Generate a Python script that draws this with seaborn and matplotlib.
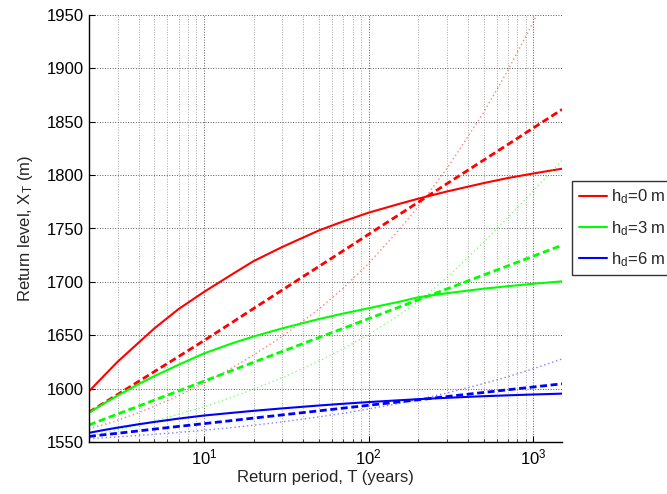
import matplotlib
matplotlib.use('Agg')
import matplotlib.pyplot as plt
import seaborn as sns
from matplotlib.lines import Line2D

# --- dados (período de retorno T em anos) ---
periodos = [2, 2.5, 3, 4, 5, 7, 10, 15, 20, 30, 50, 70, 100, 150, 200, 300, 500, 700, 1000, 1500]

# h_d = 0 m
h0_solido = [1597.5, 1613, 1625.5, 1643, 1656.5, 1674.5, 1690.6, 1707.6, 1719.4, 1732.8, 1748.2, 1756.6,
             1764.8, 1772.6, 1777.9, 1784.7, 1792.5, 1797.2, 1801.5, 1806]
h0_tracejado = [1578, 1587.2, 1594.7, 1606.7, 1616, 1630, 1645, 1662.5, 1675, 1692.5, 1714.5, 1729,
                1744.5, 1762, 1774.5, 1792, 1814, 1828.5, 1844, 1861.5]
h0_pontilhado = [1562.5, 1566.5, 1570.4, 1577.5, 1583.5, 1593.4, 1605, 1620, 1631.5, 1649.1, 1674.6,
                 1693.9, 1717.2, 1747.1, 1770.2, 1806.3, 1858.5, 1897.6, 1942.9, 1999]

# h_d = 3 m
h3_solido = [1577.5, 1586.6, 1593.7, 1604.2, 1611.8, 1622.3, 1633, 1642.7, 1648.8, 1656.5, 1665.2,
             1670.3, 1675.3, 1681, 1685.5, 1689.4, 1693.6, 1695.9, 1698.2, 1700.5]
h3_tracejado = [1566, 1571.7, 1576.3, 1583.6, 1589.3, 1597.8, 1607, 1617.3, 1624.6, 1634.9, 1647.9,
                1656.4, 1665.5, 1675.8, 1683.1, 1693.4, 1706.4, 1714.9, 1724, 1734.3]
h3_pontilhado = [1555.7, 1558.8, 1561.5, 1566, 1569.8, 1575.9, 1583, 1592.3, 1599.4, 1610.3, 1625.8,
                 1637.2, 1650.7, 1667.9, 1681.4, 1704, 1737, 1760, 1785, 1814]

# h_d = 6 m
h6_solido = [1558.6, 1561.4, 1563.5, 1566.6, 1568.8, 1571.9, 1574.8, 1577.4, 1579.2, 1581.5, 1584.2,
             1585.8, 1587.4, 1589, 1590.1, 1591.4, 1592.9, 1593.7, 1594.5, 1595.3]
h6_tracejado = [1555.2, 1556.9, 1558.2, 1560.4, 1562.1, 1564.6, 1567.2, 1570.2, 1572.4, 1575.4, 1579.2,
                1581.7, 1584.4, 1587.4, 1589.5, 1592.6, 1596.4, 1598.9, 1601.5, 1604.5]
h6_pontilhado = [1553.1, 1554, 1554.8, 1556.1, 1557.2, 1559, 1561, 1563.6, 1565.7, 1568.9, 1573.5,
                 1576.9, 1580.9, 1585.9, 1589.8, 1595.9, 1604.7, 1611.1, 1618.5, 1627.8]

rotulos = ['h$_{d}$=0 m', 'h$_{d}$=3 m', 'h$_{d}$=6 m']
cores = ['#ff0000', '#00ff00', '#0000ff']
series = [
    (h0_solido, h0_tracejado, h0_pontilhado),
    (h3_solido, h3_tracejado, h3_pontilhado),
    (h6_solido, h6_tracejado, h6_pontilhado),
]

# --- configuração visual ---
sns.set_theme(style='white')
plt.rcParams['font.family'] = ['Liberation Sans', 'DejaVu Sans']
plt.rcParams['mathtext.default'] = 'regular'
plt.rcParams['font.size'] = 12

fig = plt.figure(figsize=(6.67, 4.94), dpi=100)
ax = fig.add_axes([89 / 667, 52 / 494, 473 / 667, 427 / 494])

for (solido, tracejado, pontilhado), cor in zip(series, cores):
    sns.lineplot(x=periodos, y=pontilhado, color=cor, linewidth=1.0, alpha=0.5,
                 linestyle=(0, (1, 2)), ax=ax)
    sns.lineplot(x=periodos, y=tracejado, color=cor, linewidth=2.0,
                 linestyle=(0, (2.5, 1.3)), ax=ax)
    sns.lineplot(x=periodos, y=solido, color=cor, linewidth=1.5, ax=ax)

ax.set_xscale('log')
ax.set_xlim(2, 1500)
ax.set_ylim(1550, 1950)
ax.set_yticks(range(1550, 1951, 50))

ax.grid(which='major', linestyle=':', color='0.35', linewidth=0.7)
ax.grid(which='minor', axis='x', linestyle=':', color='0.65', linewidth=0.7)
ax.set_axisbelow(True)

sns.despine(ax=ax)
for lado in ['left', 'bottom']:
    ax.spines[lado].set_color('black')
    ax.spines[lado].set_linewidth(1.0)

ax.tick_params(which='major', direction='in', length=4, width=0.8, labelsize=12,
               colors='black', left=True, bottom=True, pad=4)
ax.tick_params(which='minor', direction='in', length=2, width=0.6, bottom=True)

ax.set_xlabel('Return period, T (years)', fontsize=12, labelpad=2)
ax.set_ylabel('Return level, X$_{T}$ (m)', fontsize=12, labelpad=8)

# legenda fora do eixo, à direita
alcas = [Line2D([0], [0], color=c, linewidth=1.5) for c in cores]
leg = ax.legend(alcas, rotulos, loc='upper left',
                bbox_to_anchor=(572 / 667, 1 - 181 / 494), bbox_transform=fig.transFigure,
                frameon=True, fancybox=False, edgecolor='black', borderaxespad=0,
                fontsize=12, handlelength=1.7, handletextpad=0.25, labelspacing=0.75,
                borderpad=0.4)
leg.get_frame().set_linewidth(1.0)

plt.savefig('out.png', dpi=100)
